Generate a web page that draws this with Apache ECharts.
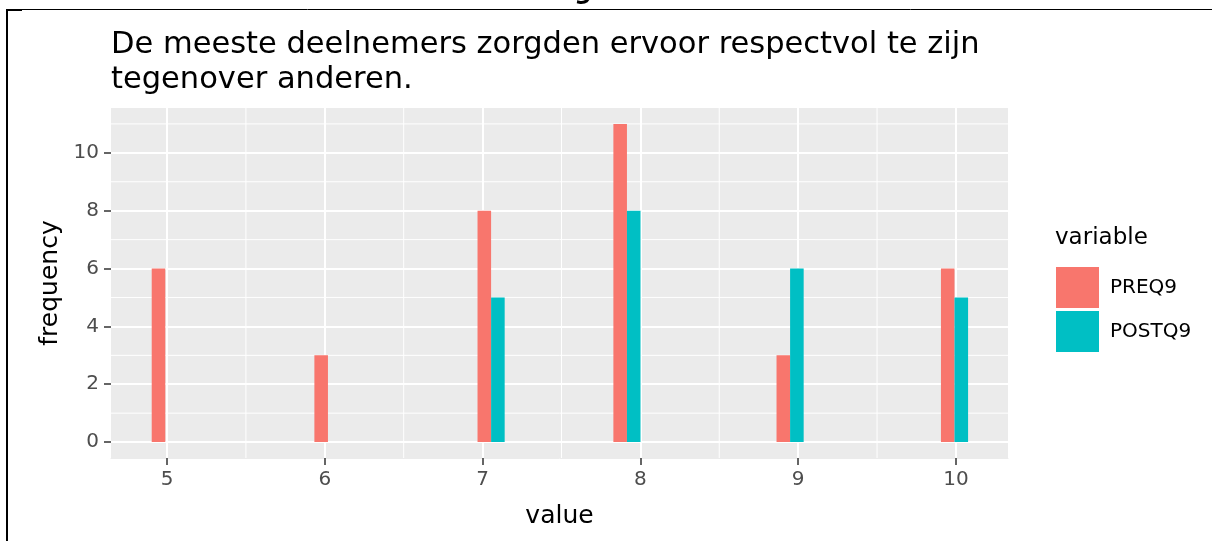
<!DOCTYPE html>
<html>
<head>
<meta charset="utf-8">
<script src="https://cdn.jsdelivr.net/npm/echarts@6/dist/echarts.min.js"></script>
<style>
  html, body { margin: 0; padding: 0; background: #fff; }
  #chart { width: 1212px; height: 541px; }
</style>
</head>
<body>
<div id="chart"></div>
<script>
// data
const seriesNames = ['PREQ9', 'POSTQ9'];
const preqX = [4.903, 5.934, 6.968, 7.829, 8.863, 9.905];
const preqFreq = [6, 3, 8, 11, 3, 6];
const postqX = [7.054, 7.915, 8.949, 9.991];
const postqFreq = [5, 8, 6, 5];
const binWidth = 0.086;

const xTicks = [5, 6, 7, 8, 9, 10];
const xMinor = [5.5, 6.5, 7.5, 8.5, 9.5];
const yTicks = [0, 2, 4, 6, 8, 10];
const yMinor = [1, 3, 5, 7, 9, 11];

const FONT = 'DejaVu Sans';
const colors = ['#F8766D', '#00BFC4'];

const chart = echarts.init(document.getElementById('chart'));

const toBins = (xs, ys) => xs.map((x, i) => [x, x + binWidth, ys[i]]);

const renderBar = (params, api) => {
  const p0 = api.coord([api.value(0), api.value(2)]);
  const p1 = api.coord([api.value(1), 0]);
  return {
    type: 'rect',
    shape: { x: p0[0], y: p0[1], width: p1[0] - p0[0], height: p1[1] - p0[1] },
    style: { fill: api.visual('color') }
  };
};

// minor grid lines (ggplot draws them thinner, between the major ones)
const renderMinorX = (params, api) => {
  const cs = params.coordSys;
  const x = api.coord([api.value(0), 0])[0];
  return { type: 'line', shape: { x1: x, y1: cs.y, x2: x, y2: cs.y + cs.height }, style: { stroke: '#fff', lineWidth: 1 } };
};
const renderMinorY = (params, api) => {
  const cs = params.coordSys;
  const y = api.coord([xTicks[0], api.value(0)])[1];
  return { type: 'line', shape: { x1: cs.x, y1: y, x2: cs.x + cs.width, y2: y }, style: { stroke: '#fff', lineWidth: 1 } };
};

const axisCommon = (ticks) => ({
  axisTick: { show: true, customValues: ticks, length: 7, lineStyle: { color: '#333', width: 1.5 } },
  axisLabel: { customValues: ticks, color: '#4D4D4D', fontSize: 20, fontFamily: FONT, margin: 12 },
  splitLine: { show: true, lineStyle: { color: '#fff', width: 2 } }
});

const option = {
  animation: false,
  title: [
    {
      text: 'De meeste deelnemers zorgden ervoor respectvol te zijn\ntegenover anderen.',
      left: 106,
      top: 23,
      textStyle: { fontFamily: FONT, fontSize: 30.5, fontWeight: 'normal', color: '#000', lineHeight: 35 }
    },
    {
      text: 'variable',
      left: 1050,
      top: 222,
      textStyle: { fontFamily: FONT, fontSize: 23, fontWeight: 'normal', color: '#000' }
    }
  ],
  legend: {
    orient: 'vertical',
    left: 1051,
    top: 262,
    itemWidth: 43,
    itemHeight: 41,
    itemGap: 3,
    icon: 'rect',
    textStyle: { fontFamily: FONT, fontSize: 20, color: '#000', padding: [0, 0, 0, 6] },
    data: seriesNames
  },
  grid: {
    left: 111,
    right: 204,
    top: 108,
    bottom: 83,
    show: true,
    backgroundColor: '#EBEBEB',
    borderWidth: 0
  },
  xAxis: Object.assign({
    type: 'value', min: 4.645, max: 10.33,
    name: 'value', nameLocation: 'middle', nameGap: 46,
    nameTextStyle: { fontFamily: FONT, fontSize: 25, color: '#000' },
    // ggplot has no axis line; draw it in the panel grey so the ticks still render
    axisLine: { show: true, onZero: false, lineStyle: { color: '#EBEBEB', width: 1 } }
  }, axisCommon(xTicks)),
  yAxis: Object.assign({
    type: 'value', min: -0.55, max: 11.55,
    name: 'frequency', nameLocation: 'middle', nameGap: 48, nameRotate: 90,
    nameTextStyle: { fontFamily: FONT, fontSize: 25, color: '#000' },
    axisLine: { show: false, onZero: false }
  }, axisCommon(yTicks)),
  series: [
    {
      type: 'custom', silent: true, z: 1,
      renderItem: renderMinorX,
      encode: { x: 0 },
      data: xMinor.map((v) => [v])
    },
    {
      type: 'custom', silent: true, z: 1,
      renderItem: renderMinorY,
      encode: { y: 0 },
      data: yMinor.map((v) => [v])
    },
    {
      name: seriesNames[0],
      type: 'custom', z: 2,
      renderItem: renderBar,
      itemStyle: { color: colors[0] },
      encode: { x: [0, 1], y: 2 },
      data: toBins(preqX, preqFreq)
    },
    {
      name: seriesNames[1],
      type: 'custom', z: 2,
      renderItem: renderBar,
      itemStyle: { color: colors[1] },
      encode: { x: [0, 1], y: 2 },
      data: toBins(postqX, postqFreq)
    }
  ],
  graphic: [
    { type: 'line', shape: { x1: 6, y1: 9.5, x2: 1212, y2: 9.5 }, style: { stroke: '#000', lineWidth: 1 } },
    { type: 'line', shape: { x1: 7, y1: 9, x2: 7, y2: 541 }, style: { stroke: '#000', lineWidth: 2 } },
    { type: 'line', shape: { x1: 6, y1: 10, x2: 22, y2: 10 }, style: { stroke: '#000', lineWidth: 2 } },
    {
      type: 'text',
      x: 608,
      y: 5,
      style: {
        text: 'Figuur 6',
        font: 'italic bold 24px "DejaVu Sans"',
        fill: '#000',
        textAlign: 'center',
        textVerticalAlign: 'bottom'
      }
    }
  ]
};

chart.setOption(option);
window.addEventListener('resize', () => chart.resize());
</script>
</body>
</html>
